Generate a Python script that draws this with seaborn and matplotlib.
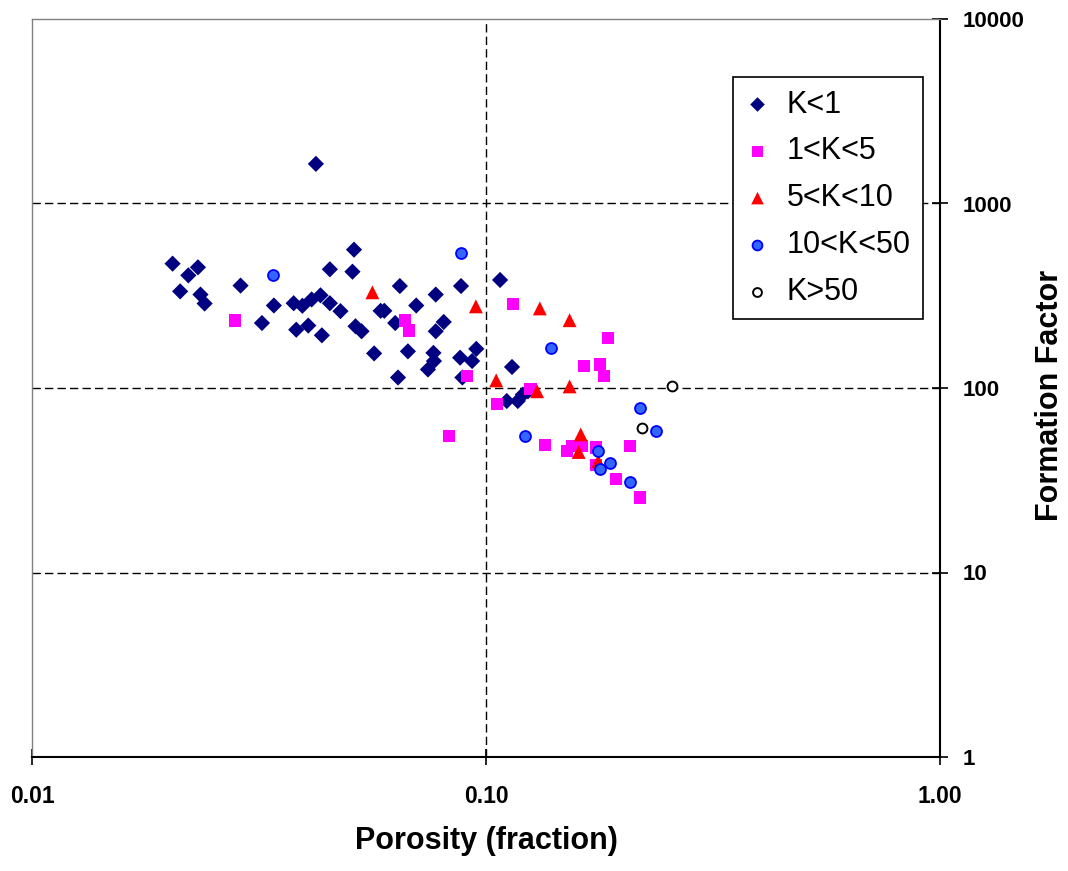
import matplotlib
matplotlib.use("Agg")
import matplotlib.pyplot as plt
import seaborn as sns
import pandas as pd

# ---------------- data ----------------
k1_por = [0.0422, 0.0204, 0.0232, 0.0221, 0.0212, 0.0235, 0.0240, 0.0288, 0.0321, 0.0341,
          0.0377, 0.0394, 0.0413, 0.0432, 0.0382, 0.0406, 0.0435, 0.0453, 0.0453, 0.0478,
          0.0512, 0.0508, 0.0516, 0.0532, 0.0567, 0.0586, 0.0597, 0.0631, 0.0646, 0.0673,
          0.0640, 0.0702, 0.0775, 0.0807, 0.0775, 0.0766, 0.0768, 0.0745, 0.0877, 0.0881,
          0.0952, 0.0932, 0.0887, 0.1074, 0.1141, 0.1111, 0.1175, 0.1205, 0.1237]
k1_ff = [1640, 472, 451, 408, 334, 321, 287, 359, 225, 280,
         288, 279, 302, 318, 207, 218, 193, 440, 288, 261,
         562, 427, 216, 203, 154, 262, 262, 225, 357, 158,
         114, 280, 321, 228, 203, 155, 140, 126, 146, 357,
         163, 140, 114, 385, 130, 85, 85, 92, 96]

k5_por = [0.0280, 0.0663, 0.0676, 0.0907, 0.1147, 0.1857, 0.1644, 0.1783, 0.1820, 0.1254,
          0.1056, 0.0828, 0.1348, 0.1509, 0.1550, 0.1623, 0.1747, 0.2076, 0.1745, 0.1933,
          0.2183]
k5_ff = [232, 232, 205, 116, 284, 186, 131, 134, 116, 99,
         82, 55, 49, 45.5, 48.6, 48.6, 47.6, 48.6, 38.2, 32.1,
         25.5]

k10_por = [0.0562, 0.0950, 0.1314, 0.1528, 0.1053, 0.1528, 0.1296, 0.1617, 0.1600, 0.1766]
k10_ff = [330, 277, 270, 233, 110, 102, 96, 56, 45, 40]

k50_por = [0.0340, 0.0880, 0.1388, 0.1217, 0.1766, 0.1874, 0.1783, 0.2073, 0.2183, 0.2368]
k50_ff = [412, 541, 164, 55, 45.3, 39, 36.2, 31, 77.7, 58.3]

kbig_por = [0.2568, 0.2203]
kbig_ff = [102, 60.8]

labels = ["K<1", "1<K<5", "5<K<10", "10<K<50", "K>50"]
x_ticks = [0.01, 0.1, 1.0]
x_ticklabels = ["0.01", "0.10", "1.00"]
y_ticks = [1, 10, 100, 1000, 10000]
y_ticklabels = ["1", "10", "100", "1000", "10000"]

# ---------------- style ----------------
sns.set_theme(style="white")
plt.rcParams["font.family"] = ["Liberation Sans", "DejaVu Sans"]

W, H = 1068, 871
fig = plt.figure(figsize=(W / 100, H / 100), dpi=100)
L, R, T, B = 32, 940, 19, 757
ax = fig.add_axes([L / W, 1 - B / H, (R - L) / W, (B - T) / H])
ax.set_facecolor("white")

sns.scatterplot(x=k1_por, y=k1_ff, ax=ax, marker="D", s=68, color="#000080",
                edgecolor="none", linewidth=0, label=labels[0], zorder=3)
sns.scatterplot(x=k5_por, y=k5_ff, ax=ax, marker="s", s=78, color="#FF00FF",
                edgecolor="none", linewidth=0, label=labels[1], zorder=3)
sns.scatterplot(x=k10_por, y=k10_ff, ax=ax, marker="^", s=100, color="#FF0000",
                edgecolor="none", linewidth=0, label=labels[2], zorder=3)
sns.scatterplot(x=k50_por, y=k50_ff, ax=ax, marker="o", s=62, color="#3366FF",
                edgecolor="#0000FF", linewidth=1.3, label=labels[3], zorder=3)
sns.scatterplot(x=kbig_por, y=kbig_ff, ax=ax, marker="o", s=50, color="white",
                edgecolor="black", linewidth=1.4, label=labels[4], zorder=3)

ax.set_xscale("log")
ax.set_yscale("log")
ax.set_xlim(0.01, 1.0)
ax.set_ylim(1, 10000)
ax.set_xticks(x_ticks)
ax.set_xticklabels(x_ticklabels)
ax.set_yticks(y_ticks)
ax.set_yticklabels(y_ticklabels)
ax.minorticks_off()

ax.yaxis.tick_right()
ax.yaxis.set_label_position("right")

ax.tick_params(axis="x", which="major", direction="inout", length=12, width=1.2,
               color="black", labelsize=16.5, pad=14, bottom=True, top=False)
ax.tick_params(axis="y", which="major", direction="inout", length=12, width=1.2,
               color="black", labelsize=16, pad=10, right=True, left=False)
for t in ax.get_xticklabels() + ax.get_yticklabels():
    t.set_fontweight("bold")
    t.set_color("black")

# grid only at the inner decades
ax.grid(True, which="major", color="black", linestyle=(0, (6, 3)), linewidth=1.0)
for gl in ax.get_ygridlines():
    gl.set_visible(False)
for gl in ax.get_xgridlines():
    gl.set_visible(False)
ax.get_ygridlines()[1].set_visible(True)
ax.get_ygridlines()[2].set_visible(True)
ax.get_ygridlines()[3].set_visible(True)
ax.get_xgridlines()[1].set_visible(True)
ax.set_axisbelow(True)

for side in ["left", "top"]:
    ax.spines[side].set_color("#808080")
    ax.spines[side].set_linewidth(1.0)
for side in ["right", "bottom"]:
    ax.spines[side].set_color("black")
    ax.spines[side].set_linewidth(1.5)

ax.set_xlabel("Porosity (fraction)", fontsize=22, fontweight="bold", color="black")
ax.set_ylabel("Formation Factor", fontsize=22, fontweight="bold", color="black")
ax.xaxis.set_label_coords(0.5, -0.094)
ax.yaxis.set_label_coords(1.105, 0.49)

leg = ax.legend(loc="upper right", bbox_to_anchor=(0.981, 0.921), fontsize=22,
                frameon=True, fancybox=False, framealpha=1, edgecolor="black",
                borderpad=0.4, labelspacing=0.55, handlelength=0.8,
                handletextpad=0.55, borderaxespad=0, markerscale=0.9)
leg.get_frame().set_linewidth(1.2)
for t in leg.get_texts():
    t.set_color("black")

fig.savefig("out.png", dpi=100, facecolor="white")
